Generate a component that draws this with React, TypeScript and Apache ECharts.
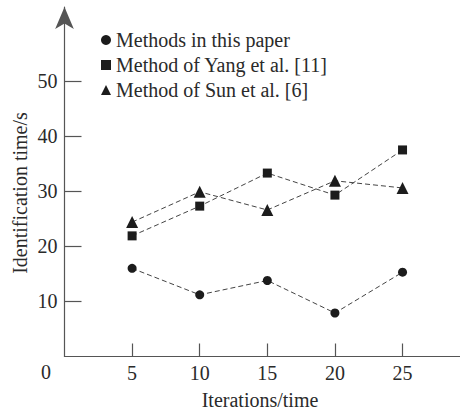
import React, { useEffect, useRef } from "react";
import * as echarts from "echarts";

const iterations = [5, 10, 15, 20, 25];
const thisPaper = [16.0, 11.2, 13.8, 7.9, 15.3];
const yang = [21.9, 27.3, 33.3, 29.3, 37.5];
const sun = [24.4, 29.9, 26.6, 31.9, 30.6];
const seriesNames = ["Methods in this paper", "Method of Yang et al. [11]", "Method of Sun et al. [6]"];
const xTicks = [5, 10, 15, 20, 25];
const yTicks = [10, 20, 30, 40, 50];
const xName = "Iterations/time";
const yName = "Identification time/s";
const originLabel = "0";

const FONT = "Liberation Serif";
const TEXT = "#2a2a2a";
const AXIS = "#555";

export default function App() {
  const ref = useRef<HTMLDivElement>(null);
  useEffect(() => {
    if (!ref.current) return;
    const chart = echarts.init(ref.current, null, { renderer: "svg" });
    const mk = (name: string, vals: number[], symbol: string, size: number) => ({
      name,
      type: "line",
      data: iterations.map((x, i) => [x, vals[i]]),
      symbol,
      symbolSize: size,
      itemStyle: { color: "#1c1c1c" },
      lineStyle: { color: "#444", width: 1, type: [5, 3] },
    });
    const txt = (text: string) => ({
      text,
      fontFamily: FONT,
      fontSize: 20,
      fill: TEXT,
      textAlign: "center",
      textVerticalAlign: "middle",
    });
    chart.setOption({
      animation: false,
      backgroundColor: "#fff",
      grid: { left: 64.5, right: 0, top: 7, bottom: 56.5, containLabel: false },
      legend: {
        orient: "vertical",
        left: 96,
        top: 23,
        itemWidth: 10,
        itemHeight: 10,
        itemGap: 1,
        textStyle: { fontFamily: FONT, fontSize: 20, color: TEXT, lineHeight: 24 },
        data: [
          { name: seriesNames[0], icon: "circle" },
          { name: seriesNames[1], icon: "rect" },
          { name: seriesNames[2], icon: "triangle" },
        ],
      },
      xAxis: {
        type: "value",
        min: 0,
        max: 29.25,
        interval: 5,
        splitLine: { show: false },
        axisLine: { lineStyle: { color: AXIS, width: 1.2 } },
        axisTick: { inside: true, length: 13, customValues: xTicks, lineStyle: { color: AXIS, width: 1.2 } },
        axisLabel: { customValues: xTicks, margin: 6, fontFamily: FONT, fontSize: 20, color: TEXT },
      },
      yAxis: {
        type: "value",
        min: 0,
        max: 63.45,
        interval: 10,
        splitLine: { show: false },
        axisLine: {
          lineStyle: { color: AXIS, width: 1.2 },
          symbol: ["none", "arrow"],
          symbolSize: [14, 22],
        },
        axisTick: { inside: true, length: 17, customValues: yTicks, lineStyle: { color: AXIS, width: 1.2 } },
        axisLabel: { customValues: yTicks, margin: 7, fontFamily: FONT, fontSize: 20, color: TEXT },
      },
      graphic: [
        { type: "text", x: 46, y: 372, style: txt(originLabel) },
        { type: "text", x: 260, y: 400, style: txt(xName) },
        { type: "text", x: 20, y: 193, rotation: Math.PI / 2, style: txt(yName) },
      ],
      series: [
        mk(seriesNames[0], thisPaper, "circle", 9),
        mk(seriesNames[1], yang, "rect", 9),
        mk(seriesNames[2], sun, "triangle", 12),
      ],
    });
    return () => chart.dispose();
  }, []);
  return <div ref={ref} style={{ width: 460, height: 413, position: "absolute", left: 0, top: 0 }} />;
}
